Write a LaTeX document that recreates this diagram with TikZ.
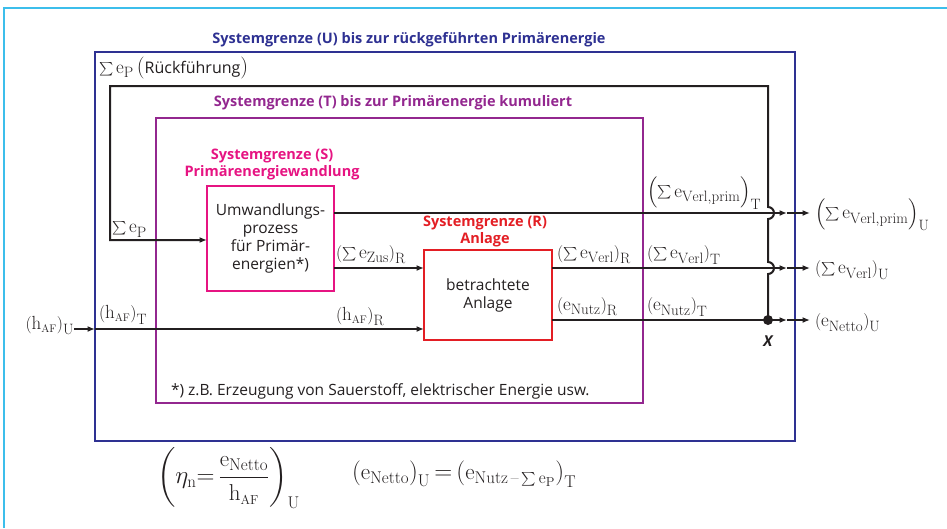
\documentclass[tikz,border=0pt]{standalone}
\usepackage{amsmath}
\usepackage{fontspec}
\setsansfont{Open Sans}
\usetikzlibrary{arrows.meta}
\DeclareMathSizes{19}{19}{15}{11}
\DeclareMathSizes{23}{23}{17}{13}
\newcommand{\ssumx}[1]{\mathord{\vcenter{\hbox{\scalebox{#1}{$\textstyle\sum$}}}}\,}
\newcommand{\ssum}{\mathchoice{\ssumx{0.78}}{\ssumx{0.78}}{\ssumx{0.55}}{\ssumx{0.42}}}
\newcommand{\bigpar}[1]{{\rmfamily\fontsize{22}{24}\selectfont #1}}
\definecolor{cyanF}{RGB}{60,190,235}
\definecolor{ublue}{RGB}{46,49,146}
\definecolor{tpurple}{RGB}{147,39,143}
\definecolor{spink}{RGB}{230,20,130}
\definecolor{rred}{RGB}{227,30,36}
\definecolor{lineblack}{RGB}{35,31,32}
\begin{document}
\begin{tikzpicture}[x=1pt,y=-1pt,
  every node/.style={inner sep=0pt, outer sep=0pt},
  conn/.style={line width=2pt, draw=lineblack},
  arr/.style={conn, -{Latex[length=7.5pt,width=6pt]}},
  hdr/.style={font=\sffamily\bfseries\fontsize{14.5}{17}\selectfont, align=center},
  txt/.style={font=\sffamily\fontsize{15.5}{18}\selectfont, align=center, text=lineblack},
  mlab/.style={font=\fontsize{19}{22}\selectfont, text=lineblack},
  boxU/.style={draw=ublue, line width=2.5pt},
  boxT/.style={draw=tpurple, line width=2.5pt},
  boxS/.style={draw=spink, line width=2.5pt},
  boxR/.style={draw=rred, line width=2.5pt},
]
\useasboundingbox (0,0) rectangle (947,528);
% outer cyan frame
\draw[cyanF, line width=2pt] (4,528) -- (4,8) -- (947,8);

% boxes
\node[boxU, minimum width=700pt, minimum height=389pt] (U) at (445,246.5) {};
\node[boxT, minimum width=487pt, minimum height=285pt] (T) at (399.5,260.5) {};
\node[boxS, minimum width=127pt, minimum height=105pt, txt] (S) at (270.5,238.5)
  {Umwandlungs-\\prozess\\für Primär-\\energien*)};
\node[boxR, minimum width=128pt, minimum height=90pt, txt] (R) at (488,295)
  {betrachtete\\Anlage};

% headers
\node[hdr, text=ublue] (hU) at (409,40) {Systemgrenze (U) bis zur rückgeführten Primärenergie};
\node[hdr, text=tpurple] (hT) at (393,103) {Systemgrenze (T) bis zur Primärenergie kumuliert};
\node[hdr, text=spink] (hS) at (272,164) {Systemgrenze (S)\\Primärenergiewandlung};
\node[hdr, text=rred] (hR) at (485,231) {Systemgrenze (R)\\Anlage};

% coordinates
\coordinate (o1) at (810,213); \coordinate (m1) at (787,213);
\coordinate (o2) at (810,268); \coordinate (m2) at (787,268);
\coordinate (o3) at (810,320); \coordinate (m3) at (787,320);
\coordinate (hin) at (95,329);
\coordinate (fbTR) at (768,86);
\coordinate (fbTL) at (110,86);
\coordinate (fbBL) at (110,240);

\node[circle, fill=lineblack, minimum size=10pt] (X) at (768,320) {};
\node[font=\sffamily\bfseries\itshape\fontsize{15}{17}\selectfont, text=lineblack] (Xl) at (768,341) {X};

% connectors
\draw[arr] (X.center) -- (768,274) arc[start angle=90, end angle=-90, radius=6]
  -- (768,219) arc[start angle=90, end angle=-90, radius=6]
  -- (fbTR) -- (fbTL) -- (fbBL) -- (S.west |- fbBL);
\draw[arr] (S.east |- o1) -- (m1);
\draw[arr] (m1) -- (o1);
\draw[arr] (S.east |- o2) -- (R.west |- o2);
\draw[arr] (R.east |- o2) -- (m2);
\draw[arr] (m2) -- (o2);
\draw[conn] (R.east |- o3) -- (X.center);
\draw[arr] (X.center) -- (m3);
\draw[arr] (m3) -- (o3);

% labels
\node[mlab, anchor=west] (lRF) at (99,68) {$\ssum \mathrm{e}_{\mathrm{P}}$\,\bigpar{(}{\sffamily\fontsize{16}{18}\selectfont Rückführung}\bigpar{)}};
\node[mlab, anchor=south west] (lEP) at (112,237) {$\ssum \mathrm{e}_{\mathrm{P}}$};
\node[mlab, anchor=east] (lhU) at (74,326) {$\left(\mathrm{h}_{\scriptscriptstyle\mathrm{AF}}\right)_{\mathrm{U}}$};
\draw[arr] (lhU.east |- hin) -- (hin);
\draw[arr] (hin) -- (R.west |- hin);
\node[mlab, anchor=south west] (lhT) at (99,324) {$\left(\mathrm{h}_{\scriptscriptstyle\mathrm{AF}}\right)_{\mathrm{T}}$};
\node[mlab, anchor=south west] (lhR) at (336,326) {$\left(\mathrm{h}_{\scriptscriptstyle\mathrm{AF}}\right)_{\mathrm{R}}$};
\node[mlab, anchor=south west] (lZ) at (336,264) {$\left(\ssum \mathrm{e}_{\mathrm{Zus}}\right)_{\mathrm{R}}$};
\node[mlab, anchor=south west] (lVR) at (557,264) {$\left(\ssum \mathrm{e}_{\mathrm{Verl}}\right)_{\mathrm{R}}$};
\node[mlab, anchor=south west] (lVT) at (647,264) {$\left(\ssum \mathrm{e}_{\mathrm{Verl}}\right)_{\mathrm{T}}$};
\node[mlab, anchor=south west] (lNR) at (557,316) {$\left(\mathrm{e}_{\mathrm{Nutz}}\right)_{\mathrm{R}}$};
\node[mlab, anchor=south west] (lNT) at (647,316) {$\left(\mathrm{e}_{\mathrm{Nutz}}\right)_{\mathrm{T}}$};
\node[mlab, anchor=south west] (lPT) at (647,209) {$\left(\ssum \mathrm{e}_{\mathrm{Verl,prim}}\right)_{\mathrm{T}}$};
\node[mlab, anchor=west] (lPU) at (815,215) {$\left(\ssum \mathrm{e}_{\mathrm{Verl,prim}}\right)_{\mathrm{U}}$};
\node[mlab, anchor=west] (lVU) at (815,270) {$\left(\ssum \mathrm{e}_{\mathrm{Verl}}\right)_{\mathrm{U}}$};
\node[mlab, anchor=west] (lNU) at (815,323) {$\left(\mathrm{e}_{\mathrm{Netto}}\right)_{\mathrm{U}}$};

% footnote
\node[font=\sffamily\fontsize{15.5}{18}\selectfont, text=lineblack, anchor=west] (fn) at (171,391)
  {*) z.B. Erzeugung von Sauerstoff, elektrischer Energie usw.};

% formulas
\node[font=\fontsize{23}{27}\selectfont, text=lineblack, anchor=west] (f1) at (157,478)
  {$\left(\eta_{\mathrm{n}}{=}\,\dfrac{\mathrm{e}_{\mathrm{Netto}}}{\mathrm{h}_{\scriptscriptstyle\mathrm{AF}}}\right)_{\mathrm{U}}$};
\node[font=\fontsize{23}{27}\selectfont, text=lineblack, anchor=west] (f2) at (352,474)
  {$\left(\mathrm{e}_{\mathrm{Netto}}\right)_{\mathrm{U}}{=}\left(\mathrm{e}_{\mathrm{Nutz}\,\text{--}\,\ssum \mathrm{e}_{\mathrm{P}}}\right)_{\mathrm{T}}$};
\end{tikzpicture}
\end{document}
